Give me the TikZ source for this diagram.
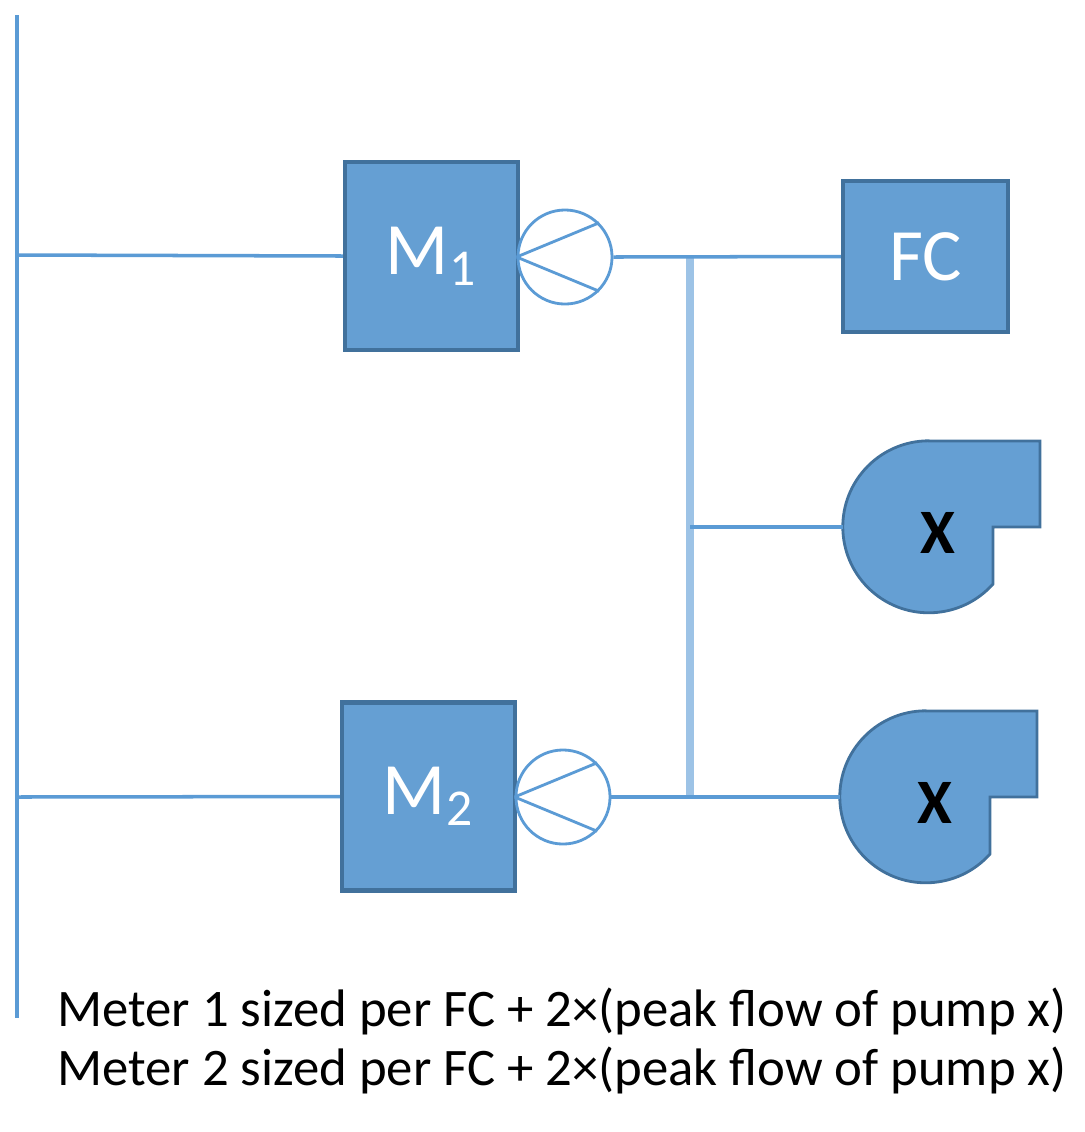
\documentclass[tikz,border=0pt]{standalone}
\usepackage{fontspec}
\setmainfont{Carlito}
\usetikzlibrary{positioning}
\definecolor{boxfill}{HTML}{659FD3}
\definecolor{boxline}{HTML}{41719C}
\definecolor{pipe}{HTML}{5B9BD5}
\definecolor{header}{HTML}{9DC3E6}
\begin{document}
\begin{tikzpicture}[x=0.01cm,y=-0.01cm,
  meter/.style={draw=boxline,fill=boxfill,line width=1.2pt,minimum width=1.73cm,minimum height=1.88cm,text=white,font=\fontsize{21}{23}\selectfont},
  valve/.style={draw=pipe,fill=white,circle,minimum size=0.94cm,line width=0.8pt},
  pipeline/.style={pipe,line width=1pt},
  pump/.style={draw=boxline,fill=boxfill,line width=0.8pt}]
  \useasboundingbox (0,0) rectangle (1085,1132);
  % eje principal
  \coordinate (top) at (17,15);
  \coordinate (bot) at (17,1018);
  \draw[pipeline] (top) -- (bot);
  % medidores
  \node[meter] (m1) at (431.5,256) {M\textsubscript{1}};
  \node[meter] (m2) at (428.5,796.5) {M\textsubscript{2}};
  \node[valve] (v1) at (565,257) {};
  \node[valve] (v2) at (563,797) {};
  \foreach \v in {v1,v2} {
    \draw[pipe,line width=0.8pt] (\v.west) -- (\v.north east) (\v.west) -- (\v.south east);
  }
  \node[meter,minimum width=1.65cm,minimum height=1.51cm] (fc) at (925.5,256.5) {FC};
  % bombas
  \foreach \dx/\dy/\n in {0/0/p1,-3/270/p2} {
    \begin{scope}[shift={(\dx,\dy)}]
      \draw[pump] (929,441) -- (1040,441) -- (1040,527) -- (993,527) -- (993,584)
        arc[start angle=41.7,end angle=270,radius=86] -- cycle;
      \coordinate (\n) at (843,527);
      \node[font=\fontsize{18}{20}\selectfont\bfseries] at (938,533) {X};
    \end{scope}
  }
  % tuberias
  \coordinate (h1) at (690,255);
  \coordinate (h2) at (690,795);
  \draw[header,line width=2.5pt] (h1) -- (h2);
  \draw[pipeline] (17,255) -- (m1.west);
  \draw[pipeline] (17,797) -- (m2.west);
  \draw[pipeline] (v1.east) -- (fc.west);
  \draw[pipeline] (v2.east) -- (p2 |- v2.east);
  \draw[pipeline] (690,527) -- (p1);
  \node[anchor=west,font=\fontsize{15}{18}\selectfont,align=left] (txt) at (45,1041)
    {Meter 1 sized per FC + 2×(peak flow of pump x)\\[-1pt]Meter 2 sized per FC + 2×(peak flow of pump x)};
\end{tikzpicture}
\end{document}
